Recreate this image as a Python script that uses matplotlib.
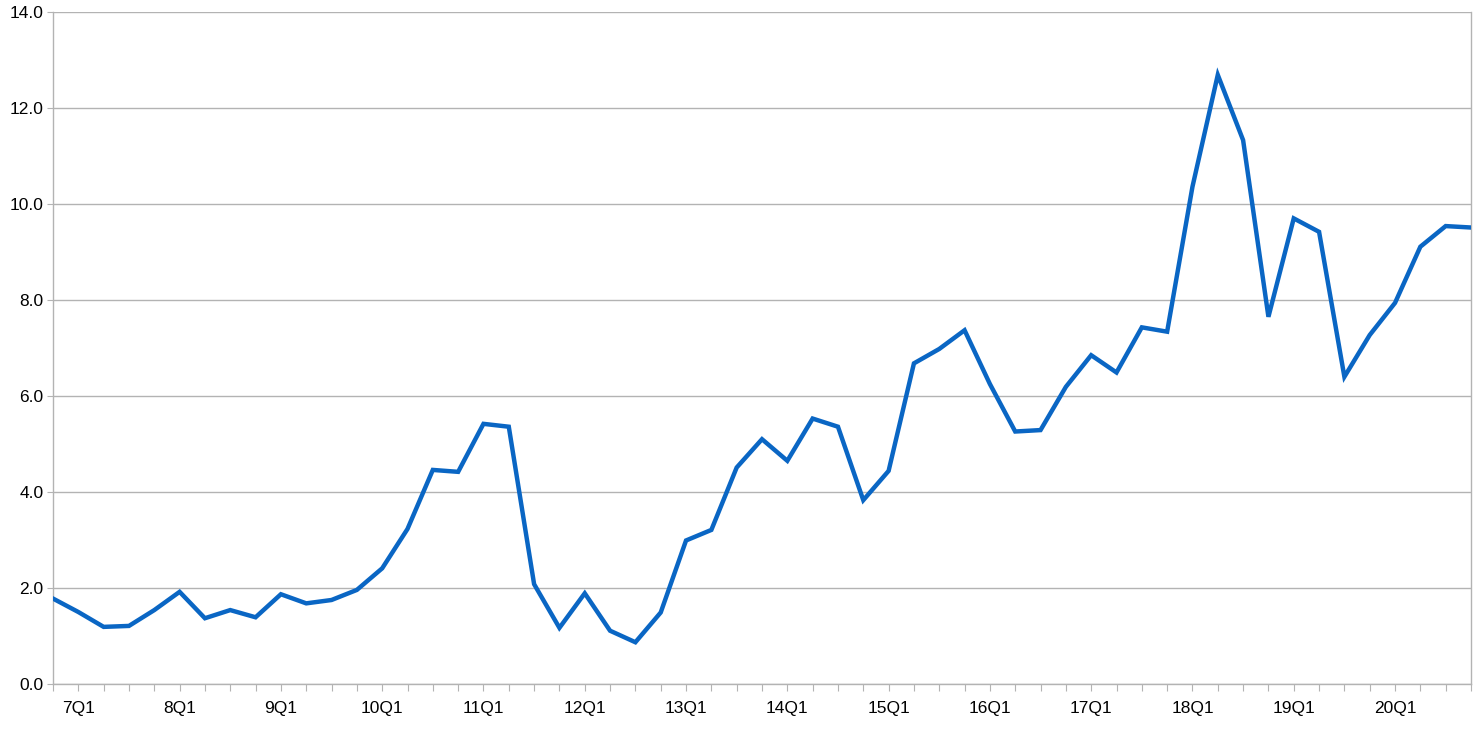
import matplotlib
matplotlib.use("Agg")
import matplotlib.pyplot as plt

quarters = ["6Q4"] + [f"{y}Q{q}" for y in range(7, 21) for q in range(1, 5)]
values = [1.78, 1.50, 1.19, 1.21, 1.54, 1.92, 1.37, 1.54, 1.39, 1.87,
          1.68, 1.75, 1.96, 2.41, 3.23, 4.46, 4.42, 5.42, 5.36, 2.08,
          1.17, 1.89, 1.11, 0.87, 1.49, 2.99, 3.21, 4.51, 5.10, 4.65,
          5.53, 5.36, 3.83, 4.44, 6.68, 6.98, 7.37, 6.25, 5.26, 5.29,
          6.19, 6.85, 6.49, 7.43, 7.34, 10.36, 12.69, 11.33, 7.65, 9.70,
          9.42, 6.40, 7.27, 7.94, 9.11, 9.54, 9.51]
yticks = [0, 2, 4, 6, 8, 10, 12, 14]

plt.rcParams['font.family'] = ['Liberation Sans', 'DejaVu Sans']

fig = plt.figure(figsize=(14.83, 7.30), dpi=100)
ax = fig.add_axes([53/1483, 1 - 684/730, (1471-53)/1483, (684-12)/730])

x = list(range(len(values)))
ax.plot(x, values, color='#0a66c4', linewidth=3.2, solid_joinstyle='miter', zorder=3)

ax.set_xlim(0, len(values) - 1)
ax.set_ylim(0, 14)
ax.set_yticks(yticks)
ax.set_yticklabels([f"{v:.1f}" for v in yticks], fontsize=12.5)
ax.set_xticks(x)
ax.set_xticklabels([q if q.endswith("Q1") else "" for q in quarters], fontsize=12.5)
ax.grid(axis='y', color='#b3b3b3', linewidth=1.0)
ax.set_axisbelow(True)
for s in ['left', 'bottom', 'right']:
    ax.spines[s].set_color('#b3b3b3')
    ax.spines[s].set_linewidth(1.0)
ax.spines['top'].set_visible(False)
ax.tick_params(axis='x', length=5, color='#b3b3b3', pad=7)
ax.tick_params(axis='y', length=4, color='#b3b3b3', pad=3)

fig.savefig("out.png", dpi=100)
